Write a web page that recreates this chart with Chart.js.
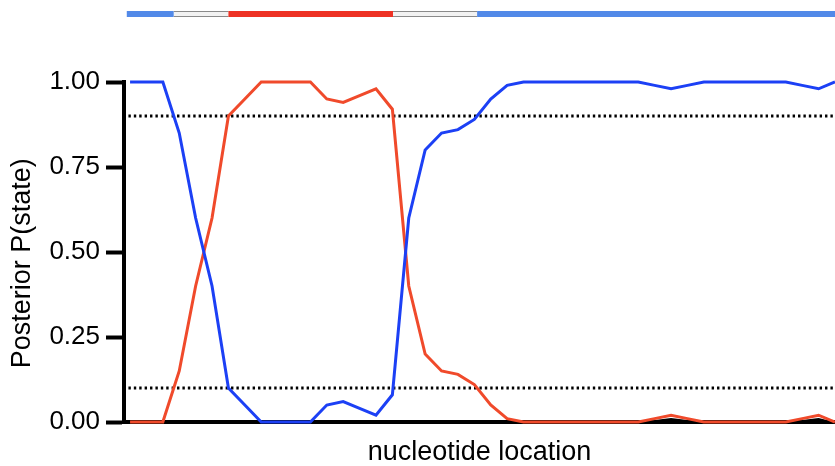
<!DOCTYPE html>
<html>
<head>
<meta charset="utf-8">
<script src="https://cdn.jsdelivr.net/npm/chart.js@4/dist/chart.umd.min.js"></script>
<style>
  html, body { margin: 0; padding: 0; background: #fff; }
  #wrap { width: 835px; height: 466px; }
</style>
</head>
<body>
<div id="wrap"><canvas id="posteriorChart"></canvas></div>
<script>
// posterior probability per nucleotide window (44 windows)
var stateBlue = [1, 1, 1, 0.85, 0.6, 0.4, 0.1, 0.05, 0, 0, 0, 0, 0.05, 0.06, 0.04, 0.02, 0.08, 0.6, 0.8, 0.85, 0.86, 0.89,
	0.95, 0.99, 1, 1, 1, 1, 1, 1, 1, 1, 0.99, 0.98, 0.99, 1, 1, 1, 1, 1, 1, 0.99, 0.98, 1];
var stateRed = [0, 0, 0, 0.15, 0.4, 0.6, 0.9, 0.95, 1, 1, 1, 1, 0.95, 0.94, 0.96, 0.98, 0.92, 0.4, 0.2, 0.15, 0.14, 0.11,
	0.05, 0.01, 0, 0, 0, 0, 0, 0, 0, 0, 0.01, 0.02, 0.01, 0, 0, 0, 0, 0, 0, 0.01, 0.02, 0];
// small black area under the late red bumps
var stateOther = [null, null, null, null, null, null, null, null, null, null, null, null, null, null, null, null, null, null, null, null, null, null,
	null, null, null, null, null, null, null, null, null, 0, 0.006, 0.012, 0.006, 0, null, null, null, null, 0, 0.006, 0.012, 0];

// significance thresholds (dotted lines)
var thresholds = [0.9, 0.1];

// state calls for the bar on top: boundaries in window units and the state in between
var callBreaks = [-0.2, 2.67, 6, 16.04, 21.17, 43];
var callStates = ['blue', 'none', 'red', 'none', 'blue'];

var yTickLabels = ['0.00', '0.25', '0.50', '0.75', '1.00'];

var toPoints = function(arr) {
	return arr.map(function(v, i) { return { x: i, y: v }; });
};

var fontFamily = "'Liberation Sans', Arial, Helvetica, sans-serif";

var callBarPlugin = {
	id: 'callBar',
	afterDraw: function(chart) {
		var ctx = chart.ctx;
		var xs = chart.scales.x;
		ctx.save();
		for (var i = 0; i < callStates.length; i++) {
			var x0 = xs.getPixelForValue(callBreaks[i]);
			var x1 = xs.getPixelForValue(callBreaks[i + 1]);
			if (callStates[i] == 'none') {
				ctx.fillStyle = '#f2f2f2';
				ctx.fillRect(x0, 11, x1 - x0, 6);
				ctx.strokeStyle = '#8a8a8a';
				ctx.lineWidth = 1;
				ctx.beginPath();
				ctx.moveTo(x0, 11.5); ctx.lineTo(x1, 11.5);
				ctx.moveTo(x0, 16.5); ctx.lineTo(x1, 16.5);
				ctx.stroke();
			} else {
				ctx.fillStyle = callStates[i] == 'blue' ? '#5289e8' : '#ee3224';
				ctx.fillRect(x0, 11, x1 - x0, 6);
			}
		}
		ctx.restore();
	}
};

var datasets = [
	{
		label: 'state A',
		data: toPoints(stateBlue),
		borderColor: '#1c40f5',
		borderWidth: 3,
		pointRadius: 0,
		tension: 0,
		fill: false,
		clip: false
	},
	{
		label: 'state B',
		data: toPoints(stateRed),
		borderColor: '#f04a2b',
		borderWidth: 3,
		pointRadius: 0,
		tension: 0,
		fill: false,
		clip: false
	},
	{
		label: 'other',
		data: toPoints(stateOther),
		borderWidth: 0,
		borderColor: '#000',
		backgroundColor: '#000',
		pointRadius: 0,
		tension: 0,
		fill: 'origin',
		spanGaps: false
	}
];

thresholds.forEach(function(t) {
	datasets.push({
		label: 'threshold ' + t,
		data: [{ x: -0.1, y: t }, { x: 43, y: t }],
		borderColor: '#000',
		borderWidth: 2.8,
		borderDash: [2.4, 3],
		pointRadius: 0,
		fill: false
	});
});

var chart = new Chart(document.getElementById('posteriorChart'), {
	type: 'line',
	data: { datasets: datasets },
	options: {
		responsive: true,
		maintainAspectRatio: false,
		animation: false,
		layout: { padding: { top: 82, right: 0, bottom: 0, left: 0 } },
		plugins: {
			legend: { display: false },
			tooltip: { enabled: false }
		},
		scales: {
			x: {
				type: 'linear',
				min: -0.37,
				max: 43,
				grid: { display: false },
				border: { display: true, width: 4, color: '#000' },
				ticks: { display: false },
				title: {
					display: true,
					text: 'nucleotide location',
					color: '#000',
					font: { family: fontFamily, size: 27 },
					padding: { top: 0, bottom: -3 }
				},
				afterFit: function(scale) { scale.height = 44; }
			},
			y: {
				min: 0,
				max: 1,
				grid: { display: true, drawOnChartArea: false, drawTicks: true, tickLength: 18, tickWidth: 4, tickColor: '#000' },
				border: { display: true, width: 4, color: '#000' },
				ticks: {
					stepSize: 0.25,
					padding: 6,
					color: '#000',
					font: { family: fontFamily, size: 26 },
					callback: function(value) { return yTickLabels[Math.round(value * 4)]; }
				},
				title: {
					display: true,
					text: 'Posterior P(state)   ',
					color: '#000',
					font: { family: fontFamily, size: 27 },
					padding: { top: 6, bottom: 0 }
				},
				afterFit: function(scale) { scale.width = 124; }
			}
		}
	},
	plugins: [callBarPlugin]
});
</script>
</body>
</html>
